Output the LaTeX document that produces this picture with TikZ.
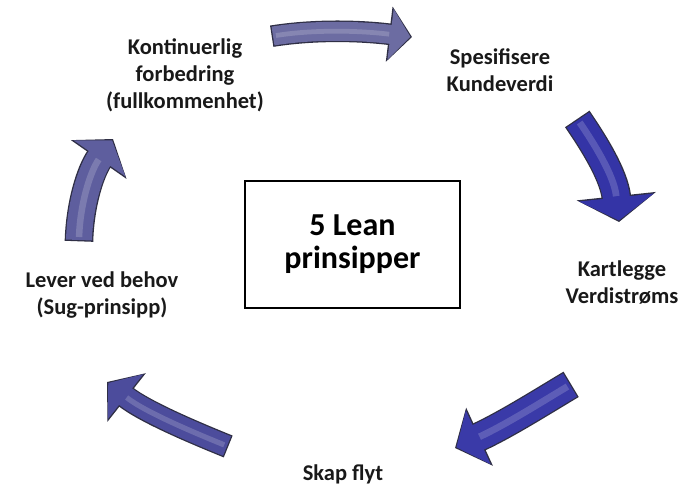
\documentclass[tikz,border=0pt]{standalone}
\usepackage{fontspec}
\setmainfont{Carlito}
\usetikzlibrary{arrows.meta}

\definecolor{arrowedge}{HTML}{2F2F45}
\definecolor{slateblue}{HTML}{6C6CA2}
\definecolor{deepblue}{HTML}{3434A6}
\definecolor{royalblue}{HTML}{3A3AA8}
\definecolor{duskblue}{HTML}{4C4C9C}
\definecolor{greyblue}{HTML}{5E5E9E}

% #1 name of the end points, #2 colour, #3 body, #4 head width, #5 head length
\newcommand{\leanarrow}[5]{%
\pgfmathsetmacro{\edgew}{#3+2.6}%
\pgfmathsetmacro{\edgehw}{#4+4.5}%
\pgfmathsetmacro{\edgehl}{#5+3}%
\pgfmathsetmacro{\glossw}{#3*0.25}%
\pgfmathsetmacro{\glossgap}{#5+3}%
\draw[line width=\edgew pt, draw=arrowedge, fill=arrowedge, shorten <=-1.3pt,
-{Triangle[width=\edgehw pt,length=\edgehl pt]}]
(#1s) .. controls (#1a) and (#1b) .. (#1e);
\draw[line width=#3pt, draw=#2, fill=#2, shorten >=1.6pt,
-{Triangle[width=#4pt,length=#5pt]}]
(#1s) .. controls (#1a) and (#1b) .. (#1e);
\draw[line width=\glossw pt, draw=white, opacity=0.18, shorten <=3pt, shorten >=\glossgap pt]
(#1s) .. controls (#1a) and (#1b) .. (#1e);
}

\begin{document}
\begin{tikzpicture}[
x=1pt, y=-1pt,
stage/.style={
align=center,
text=black!90,
font=\fontsize{22.5}{27}\selectfont\bfseries
},
core/.style={
draw,
line width=1.8pt,
minimum width=215pt,
minimum height=127pt,
align=center,
font=\fontsize{32}{33}\selectfont\bfseries
}
]

\useasboundingbox (0,0) rectangle (685,485);

\node[core] (lean) at (352.5,244.5) {5 Lean\\prinsipper};

\node[stage] (value) at (500,70) {Spesifisere\\Kundeverdi};

\node[stage] (stream) at (622,283) {Kartlegge\\Verdistrøms};

\node[stage] (flow) at (343,474) {Skap flyt};

\node[stage] (pull) at (102,295) {Lever ved behov\\(Sug-prinsipp)};

\node[stage] (perfect) at (185,75) {Kontinuerlig\\forbedring\\(fullkommenhet)};

\coordinate (tops) at (273,36);
\coordinate (topa) at (310,30);
\coordinate (topb) at (355,30);
\coordinate (tope) at (412,37);

\coordinate (rights) at (578,120);
\coordinate (righta) at (593,142);
\coordinate (rightb) at (614,175);
\coordinate (righte) at (619,222);

\coordinate (lows) at (570,385);
\coordinate (lowa) at (540,403);
\coordinate (lowb) at (505,425);
\coordinate (lowe) at (455,448);

\coordinate (backs) at (227,446);
\coordinate (backa) at (195,433);
\coordinate (backb) at (145,412);
\coordinate (backe) at (107,382);

\coordinate (ups) at (79,240);
\coordinate (upa) at (80,205);
\coordinate (upb) at (90,172);
\coordinate (upe) at (113,139);

\leanarrow{top}{slateblue}{19}{50}{20}
\leanarrow{right}{deepblue}{27}{74}{23}
\leanarrow{low}{royalblue}{27}{58}{24}
\leanarrow{back}{duskblue}{21}{56}{22}
\leanarrow{up}{greyblue}{26}{62}{22}

\end{tikzpicture}
\end{document}
